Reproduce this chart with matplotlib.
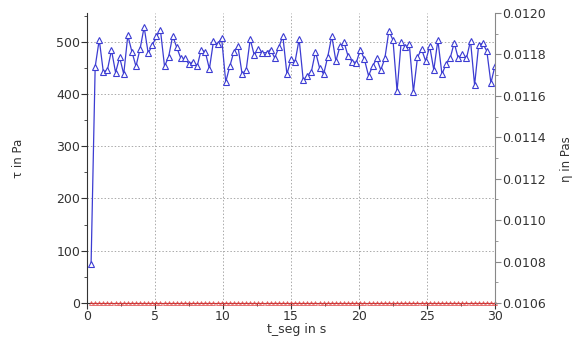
import matplotlib
matplotlib.use("Agg")
import matplotlib.pyplot as plt
from matplotlib.ticker import MultipleLocator, FormatStrFormatter

# time points (s)
t_seg = [round(0.3 * i, 1) for i in range(1, 101)]

# shear stress tau (Pa)
tau = [75, 452, 504, 442, 446, 484, 441, 470, 438, 512,
       481, 453, 486, 528, 478, 493, 510, 522, 453, 471,
       511, 489, 468, 468, 457, 462, 453, 485, 480, 448,
       501, 495, 507, 423, 453, 481, 491, 439, 445, 505,
       474, 487, 479, 479, 485, 469, 489, 511, 438, 466,
       462, 505, 426, 435, 443, 481, 450, 438, 471, 511,
       463, 491, 499, 472, 462, 460, 485, 466, 435, 453,
       468, 446, 468, 521, 503, 405, 500, 489, 495, 404,
       470, 486, 463, 491, 446, 503, 438, 457, 468, 498,
       468, 477, 468, 502, 417, 494, 497, 482, 421, 454]

# second series drawn at the baseline
eta_base = [0.0] * 100

x_ticks = [0, 5, 10, 15, 20, 25, 30]

fig = plt.figure(figsize=(5.82, 3.38), dpi=100)
ax = fig.add_axes([0.1495, 0.1036, 0.701, 0.858])

ax.plot(t_seg, eta_base, color="#e03a3a", lw=0.6, marker="^", ms=2.8,
        mfc="none", mew=0.5, zorder=3, clip_on=False)
ax.plot(t_seg, tau, color="#3c3cd2", lw=0.9, marker="^", ms=4.3,
        mfc="white", mec="#3c3cd2", mew=0.8, zorder=4)

ax.set_xlim(0, 30)
ax.set_ylim(0, 555)
ax.set_xticks(x_ticks)
ax.yaxis.set_major_locator(MultipleLocator(100))
ax.yaxis.set_minor_locator(MultipleLocator(50))
ax.xaxis.set_minor_locator(MultipleLocator(2.5))
ax.grid(True, which="major", color="#aaaaaa", linestyle=(0, (1.5, 2)), lw=0.7)

ax.spines["top"].set_visible(False)
ax.spines["right"].set_visible(False)
ax.spines["left"].set_color("#333333")
ax.spines["bottom"].set_color("#333333")
ax.tick_params(axis="both", which="major", length=4, width=0.8, colors="#333333",
               labelsize=9, pad=1)
ax.tick_params(axis="both", which="minor", length=2, width=0.6, colors="#333333")

ax2 = ax.twinx()
ax2.set_ylim(0.0106, 0.0120)
ax2.yaxis.set_major_locator(MultipleLocator(0.0002))
ax2.yaxis.set_minor_locator(MultipleLocator(0.0001))
ax2.yaxis.set_major_formatter(FormatStrFormatter("%.4f"))
for s in ["top", "left", "bottom"]:
    ax2.spines[s].set_visible(False)
ax2.spines["right"].set_color("#888888")
ax2.tick_params(axis="y", which="major", length=4, width=0.8, colors="#888888",
                labelcolor="#333333", labelsize=9, pad=1)
ax2.tick_params(axis="y", which="minor", length=2, width=0.6, colors="#888888")

fig.text(0.031, 0.53, "τ in Pa", rotation=90, ha="center", va="center",
         fontsize=8.5, color="#333333")
fig.text(0.974, 0.53, "η in Pas", rotation=90, ha="center", va="center",
         fontsize=8.5, color="#333333")
fig.text(0.51, 0.026, "t_seg in s", ha="center", va="center",
         fontsize=9, color="#333333")

fig.savefig("out.png", dpi=100)
